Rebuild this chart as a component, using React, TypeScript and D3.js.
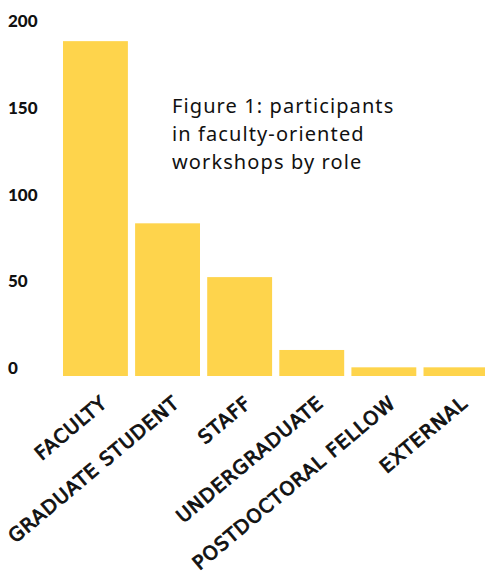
import React, { useRef, useEffect } from "react";
import { select, scaleBand, scaleLinear } from "d3";

const roles = ["FACULTY", "GRADUATE STUDENT", "STAFF", "UNDERGRADUATE", "POSTDOCTORAL FELLOW", "EXTERNAL"];
const participants = [193, 88, 57, 15, 5, 5];
const yTicks = [0, 50, 100, 150, 200];
const titleLines = ["Figure 1: participants", "in faculty-oriented", "workshops by role"];

const width = 485;
const height = 573;

export default function App() {
    const svgRef = useRef<SVGSVGElement>(null);

    useEffect(() => {
        document.body.style.margin = "0";
        const svg = select(svgRef.current);
        svg.selectAll("*").remove();

        const xScale = scaleBand<string>()
            .domain(roles)
            .range([63, 488.4])
            .paddingInner(0.1)
            .paddingOuter(0);

        const yScale = scaleLinear()
            .domain([0, 200])
            .range([376, 29]);

        // bars
        svg.selectAll(".bar")
            .data(participants)
            .join("rect")
            .attr("class", "bar")
            .attr("x", (d, i) => xScale(roles[i]) as number)
            .attr("y", d => yScale(d))
            .attr("width", xScale.bandwidth())
            .attr("height", d => yScale(0) - yScale(d))
            .attr("fill", "#fed44c");

        // y tick labels
        svg.selectAll(".ytick")
            .data(yTicks)
            .join("text")
            .attr("class", "ytick")
            .attr("x", 8)
            .attr("y", d => yScale(d) - 2)
            .attr("font-family", "Lato, sans-serif")
            .attr("font-weight", 900)
            .attr("font-size", 17)
            .attr("fill", "#111")
            .text(d => d);

        // x labels, rotated (regular face with a thin stroke for a medium weight)
        svg.selectAll(".xlabel")
            .data(roles)
            .join("text")
            .attr("class", "xlabel")
            .attr("text-anchor", "end")
            .attr("transform", d => {
                const cx = (xScale(d) as number) + xScale.bandwidth() / 2 + 13;
                return `translate(${cx},${yScale(0) + 29}) rotate(-40)`;
            })
            .attr("font-family", "'DejaVu Sans', sans-serif")
            .attr("font-size", 19)
            .attr("letter-spacing", 1)
            .attr("fill", "#111")
            .attr("stroke", "#111")
            .attr("stroke-width", 0.9)
            .text(d => d);

        // title
        svg.append("text")
            .attr("font-family", "'Noto Sans', sans-serif")
            .attr("font-size", 20)
            .attr("letter-spacing", 1.1)
            .attr("fill", "#111")
            .selectAll("tspan")
            .data(titleLines)
            .join("tspan")
            .attr("x", 172)
            .attr("y", (d, i) => 113 + i * 28)
            .text(d => d);
    }, []);

    return (
        <svg ref={svgRef} width={width} height={height} style={{ display: "block", background: "#fff" }} />
    );
}
